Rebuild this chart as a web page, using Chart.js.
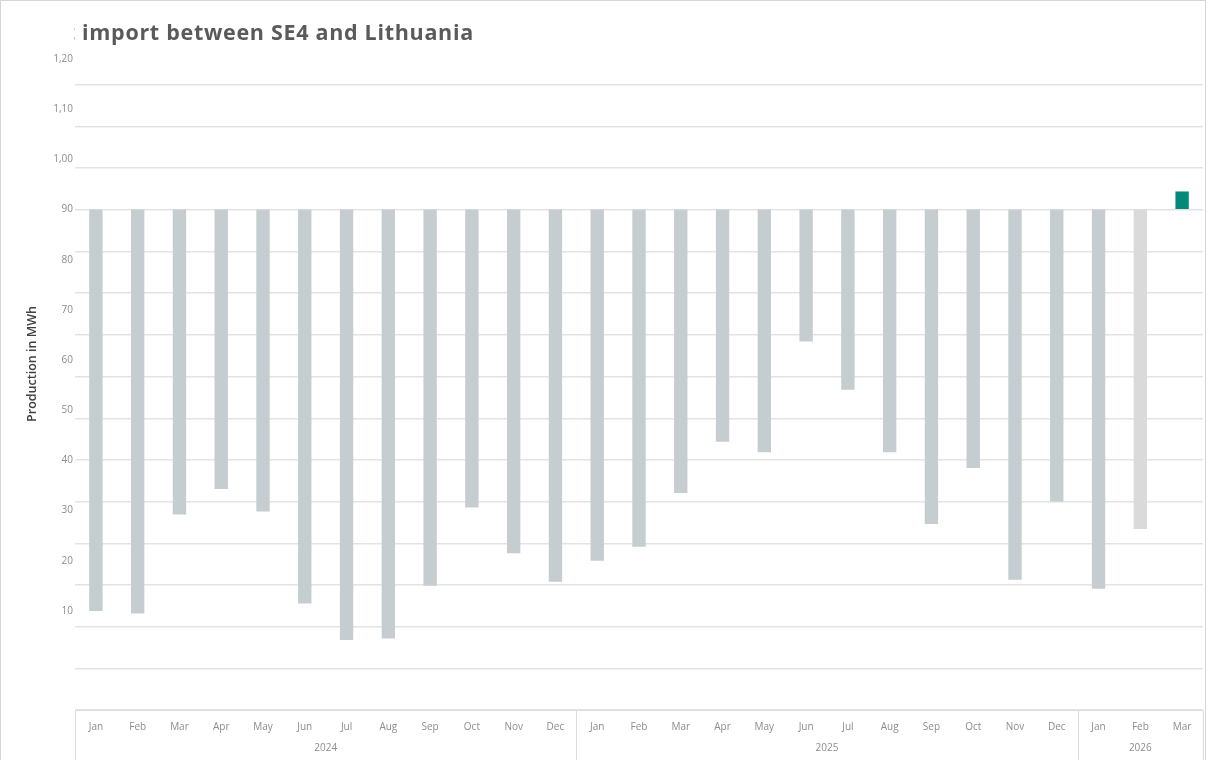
<!DOCTYPE html>
<html lang="en">
<head>
<meta charset="UTF-8">
<title>Net import between SE4 and Lithuania</title>
<script src="https://cdn.jsdelivr.net/npm/chart.js"></script>
<style>
  body { margin: 0; background: #fff; }
  #wrap { width: 1204px; height: 759px; border: 1px solid #d6d6d6; border-bottom: none; }
</style>
</head>
<body>

<div id="wrap">
  <canvas id="importChart" width="1204" height="759"></canvas>
</div>

<script>
// chart data
const months = ['Jan','Feb','Mar','Apr','May','Jun','Jul','Aug','Sep','Oct','Nov','Dec',
                'Jan','Feb','Mar','Apr','May','Jun','Jul','Aug','Sep','Oct','Nov','Dec',
                'Jan','Feb','Mar'];
const years = ['2024', '2025', '2026'];
const monthsPerYear = [12, 12, 3];

// each bar floats between a low and a high value
const barLow = [10.0, 9.5, 29.2, 34.3, 29.8, 11.5, 4.2, 4.5, 15.0, 30.6, 21.5, 15.8,
                20.0, 22.8, 33.5, 43.7, 41.6, 63.7, 54.1, 41.6, 27.3, 38.5, 16.2, 31.8,
                14.4, 26.3, 90.1];
const barHigh = [90, 90, 90, 90, 90, 90, 90, 90, 90, 90, 90, 90,
                 90, 90, 90, 90, 90, 90, 90, 90, 90, 90, 90, 90,
                 90, 90, 93.6];
const yTicks = [10, 20, 30, 40, 50, 60, 70, 80, 90, 100, 110, 120];

const barColors = barLow.map((v, i) => {
  if (i === barLow.length - 1) return '#03897a';
  if (i === barLow.length - 2) return '#dadada';
  return '#c5cdd0';
});

// title, y axis title and the two level x axis (years, separators)
const decorPlugin = {
  id: 'decor',
  afterDraw(chart) {
    const ctx = chart.ctx;
    const area = chart.chartArea;
    const x = chart.scales.x;

    // title, cut off on the left like the original
    ctx.save();
    ctx.beginPath();
    ctx.rect(73, 0, chart.width - 73, 55);
    ctx.clip();
    ctx.font = 'bold 21.5px "Open Sans"';
    ctx.letterSpacing = '0.7px';
    ctx.fillStyle = '#5a5a5a';
    ctx.textBaseline = 'middle';
    const cut = ctx.measureText('Net ').width;
    ctx.fillText('Net import between SE4 and Lithuania', 81 - cut, 33);
    ctx.restore();

    // y axis title
    ctx.save();
    ctx.translate(31, 363);
    ctx.rotate(-Math.PI / 2);
    ctx.font = '600 12.5px "Open Sans"';
    ctx.fillStyle = '#404040';
    ctx.textAlign = 'center';
    ctx.textBaseline = 'middle';
    ctx.fillText('Production in MWh', 0, 0);
    ctx.restore();

    // box around the axis labels
    ctx.save();
    ctx.strokeStyle = '#dcdcdc';
    ctx.lineWidth = 1;
    const top = Math.round(area.bottom) + 0.5;
    ctx.beginPath();
    ctx.moveTo(area.left, top);
    ctx.lineTo(area.right, top);
    ctx.stroke();

    let start = 0;
    const bounds = [area.left];
    monthsPerYear.forEach((n, k) => {
      const end = start + n - 1;
      const mid = (x.getPixelForValue(start) + x.getPixelForValue(end)) / 2;
      ctx.font = '10px "Open Sans"';
      ctx.fillStyle = '#8c8c8c';
      ctx.textAlign = 'center';
      ctx.textBaseline = 'middle';
      ctx.fillText(years[k], mid, 747);
      if (k < monthsPerYear.length - 1) {
        bounds.push((x.getPixelForValue(end) + x.getPixelForValue(end + 1)) / 2);
      }
      start += n;
    });
    bounds.push(area.right);
    bounds.forEach(bx => {
      const px = Math.round(bx) + 0.5;
      ctx.beginPath();
      ctx.moveTo(px, top);
      ctx.lineTo(px, chart.height);
      ctx.stroke();
    });
    ctx.restore();
  }
};

new Chart(document.getElementById('importChart'), {
  type: 'bar',
  data: {
    labels: months,
    datasets: [{
      label: 'Net import',
      data: barLow.map((v, i) => [v, barHigh[i]]),
      backgroundColor: barColors,
      borderWidth: 0,
      categoryPercentage: 1,
      barPercentage: 0.32,
      yAxisID: 'y'
    }]
  },
  options: {
    responsive: false,
    animation: false,
    layout: { padding: { top: 58, right: 2, bottom: 0, left: 0 } },
    plugins: {
      legend: { display: false },
      tooltip: { enabled: false }
    },
    scales: {
      x: {
        grid: { display: false, drawTicks: false },
        border: { display: false },
        ticks: {
          color: '#8c8c8c',
          font: { family: 'Open Sans', size: 10 },
          padding: 11,
          maxRotation: 0,
          autoSkip: false
        },
        afterFit(scale) { scale.height = 50; }
      },
      y: {
        position: 'left',
        min: -9.75,
        max: 120,
        grid: { display: false, drawTicks: false },
        border: { display: false },
        afterBuildTicks(scale) { scale.ticks = yTicks.map(v => ({ value: v })); },
        ticks: {
          color: '#8c8c8c',
          font: { family: 'Open Sans', size: 10 },
          padding: 2,
          callback: v => v >= 100 ? '1,' + String(v - 100).padStart(2, '0') : String(v)
        },
        afterFit(scale) { scale.width = 74; }
      },
      // only for the horizontal grid lines
      grid: {
        position: 'right',
        min: 0,
        max: 15.62,
        grid: { color: '#e3e3e3', lineWidth: 1.5, drawTicks: false },
        border: { display: false },
        afterBuildTicks(scale) {
          scale.ticks = scale.ticks.filter(t => Number.isInteger(t.value));
        },
        ticks: { display: false, stepSize: 1 },
        afterFit(scale) { scale.width = 0; }
      }
    }
  },
  plugins: [decorPlugin]
});
</script>

</body>
</html>
